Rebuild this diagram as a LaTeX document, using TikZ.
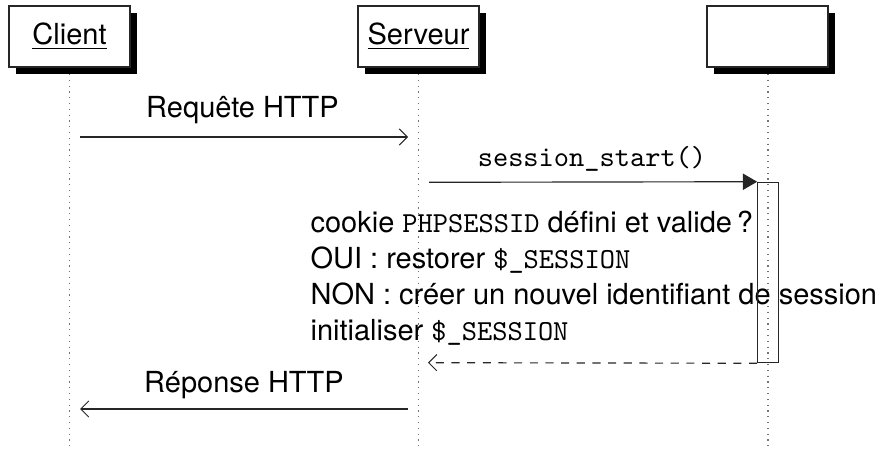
\documentclass[tikz,border=0pt]{standalone}
\usepackage{fontspec}
\setmainfont{TeX Gyre Heros}
\usetikzlibrary{arrows.meta,shadows}
\tikzset{
  actor/.style={draw=black!85, line width=0.4pt, fill=white, minimum width=41.7pt, minimum height=21pt, inner sep=0pt,
    drop shadow={shadow xshift=2.4pt, shadow yshift=-2.4pt, fill=black, opacity=1}},
  lifeline/.style={draw=black!55, line width=0.4pt, dash pattern=on 0.4pt off 1.6pt},
  msg/.style={draw=black!85, line width=0.4pt, -{Straight Barb[length=2.8pt,width=5.6pt,line width=0.35pt]}},
  callmsg/.style={draw=black!85, line width=0.4pt, -{Triangle[length=4.9pt,width=5.6pt]}},
  retmsg/.style={msg, dash pattern=on 2.8pt off 2.6pt},
  actbox/.style={draw=black!85, line width=0.4pt, minimum width=7.1pt, minimum height=62.2pt, inner sep=0pt},
  lbl/.style={anchor=base, inner sep=0pt},
  note/.style={anchor=base west, inner sep=0pt}
}
\begin{document}
\begin{tikzpicture}[x=0.3448pt,y=-0.3448pt]
\useasboundingbox (0,0) rectangle (882,450);
% actors
\node[actor] (client) at (69.5,36.5) {\underline{Client}};
\node[actor] (serveur) at (418.5,36.5) {\underline{Serveur}};
\node[actor] (php) at (767.5,36.5) {};
% lifelines
\coordinate (cend) at (69.5,450);
\coordinate (send) at (418.5,450);
\coordinate (pend) at (768,450);
\draw[lifeline] (69.5,74) -- (cend);
\draw[lifeline] (418.5,74) -- (send);
\draw[lifeline] (768,74) -- (pend);
% request
\coordinate (c1) at (80,137);
\coordinate (s1) at (408,137);
\draw[msg] (c1) -- (s1);
\node[lbl] (req) at (242.5,118) {Requête HTTP};
% session_start
\coordinate (s2) at (429,182.3);
\node[lbl] (ss) at (592,167) {\texttt{session\_start()}};
% text
\node[note] (t1) at (310,232.7) {cookie \texttt{PHPSESSID} défini et valide\,?};
\node[note] (t2) at (310,268.3) {OUI : restorer \texttt{\$\_SESSION}};
\node[note] (t3) at (310,304.3) {NON : créer un nouvel identifiant de session};
\node[note] (t4) at (310,341) {initialiser \texttt{\$\_SESSION}};
% activation
\node[actbox] (act) at (768,272.5) {};
\draw[callmsg] (s2) -- (act.north west);
\coordinate (s3) at (428,362.7);
\draw[retmsg] (act.south west) -- (s3);
% response
\coordinate (s4) at (408,409);
\coordinate (c4) at (80,409);
\draw[msg] (s4) -- (c4);
\node[lbl] (rep) at (244,392.7) {Réponse HTTP};
\end{tikzpicture}
\end{document}
